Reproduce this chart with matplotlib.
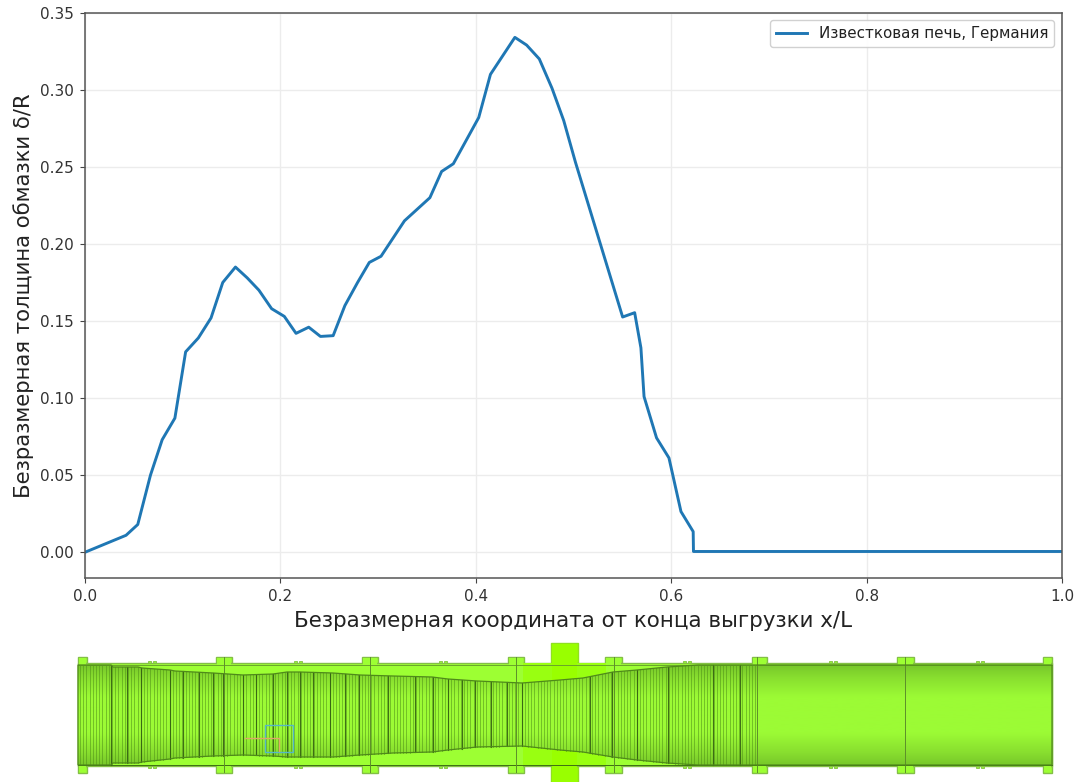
import numpy as np
import matplotlib
matplotlib.use("Agg")
import matplotlib.pyplot as plt
from matplotlib.patches import Polygon, Rectangle
from matplotlib.colors import LinearSegmentedColormap

# ---------- chart data ----------
x_rel = [0, 0.042, 0.054, 0.067, 0.079, 0.092, 0.103, 0.116, 0.129, 0.141, 0.154, 0.166,
         0.178, 0.191, 0.204, 0.216, 0.229, 0.241, 0.254, 0.266, 0.279, 0.291, 0.303,
         0.327, 0.353, 0.365, 0.377, 0.403, 0.415, 0.44, 0.452, 0.465, 0.478, 0.49,
         0.502, 0.5503, 0.5626, 0.569, 0.5722, 0.585, 0.5977, 0.61, 0.6225, 0.6228, 1.0]
delta_r = [0.0, 0.011, 0.018, 0.05, 0.073, 0.087, 0.13, 0.139, 0.152, 0.175, 0.185, 0.178,
           0.17, 0.158, 0.153, 0.142, 0.146, 0.14, 0.1405, 0.16, 0.175, 0.188, 0.192,
           0.215, 0.23, 0.247, 0.252, 0.282, 0.31, 0.334, 0.329, 0.32, 0.301, 0.28,
           0.253, 0.1526, 0.1554, 0.1326, 0.101, 0.0742, 0.0612, 0.0264, 0.0134, 0.0005, 0.0005]
series_label = "Известковая печь, Германия"
x_label = "Безразмерная координата от конца выгрузки x/L"
y_label = "Безразмерная толщина обмазки δ/R"
x_ticks = [0.0, 0.2, 0.4, 0.6, 0.8, 1.0]
y_ticks = [0.00, 0.05, 0.10, 0.15, 0.20, 0.25, 0.30, 0.35]

# ---------- kiln sketch (image pixel units) ----------
shell_x = (78, 1052)
shell_y = (662.7, 766)
flanges = [(78, 87), (216, 232), (362, 378), (508, 524), (605, 622), (752, 767), (897, 914), (1043, 1052)]
gear = (551, 578, 643, 782)
bumps = [151, 297, 442, 686, 832, 979]
seams = [224, 370, 516, 614, 757, 905]
prof_x = [78, 111, 113, 138, 142, 170, 175, 213, 243, 273, 287, 300, 333, 360, 393, 432, 448, 477,
          522, 560, 583, 613, 637, 667, 698, 759, 1052]
prof_top = [665, 665, 667, 667, 668, 670, 671, 673, 675, 674, 672, 672, 673, 675, 676, 677, 679, 681,
            683, 680, 678, 672, 670, 667, 665, 665, 665]
prof_bot = [765, 765, 763, 763, 762, 759, 758, 756, 755, 756, 757, 757, 757, 755, 753, 752, 750, 747,
            746, 750, 752, 757, 760, 763, 765, 765, 765]
major_ribs = [111, 127, 141, 170, 183, 199, 213, 223, 243, 256, 273, 287, 300, 313, 330, 345, 359,
              388, 415, 433, 448, 462, 475, 491, 507, 522, 590, 612, 637, 668, 713, 740]

GREEN_L = "#9dff33"
GREEN_G = "#99ff00"
EDGE = "#83bf45"

fig = plt.figure(figsize=(10.79, 7.82), dpi=100)

# kiln layer
k = fig.add_axes([0, 0, 1, 1], zorder=0)
k.set_xlim(0, 1079)
k.set_ylim(782, 0)
k.axis("off")

def box(x0, x1, y0, y1, fc=GREEN_L, ec=EDGE, lw=1.0, z=1):
    k.add_patch(Rectangle((x0, y0), x1 - x0, y1 - y0, fc=fc, ec=ec, lw=lw, zorder=z))

for fx0, fx1 in flanges:
    box(fx0, fx1, 656.7, 772.7)
box(gear[0], gear[1], gear[2], gear[3], fc=GREEN_G, ec="#8fe020", z=1)
for b in bumps:
    for dx in (-3, 2):
        box(b + dx, b + dx + 2.5, 661, 768, lw=0.6, z=1)
box(shell_x[0], shell_x[1], shell_y[0], shell_y[1], z=2)
box(522, 608, shell_y[0] + 0.6, shell_y[1] - 0.6, fc="#99ff11", ec="none", lw=0, z=2.1)
for fx0, fx1 in flanges:
    box(fx0 + 0.6, fx1 - 0.6, 658, 771.5, ec="none", lw=0, z=2.2)
box(gear[0] + 0.6, gear[1] - 0.6, gear[2] + 1, gear[3], fc=GREEN_G, ec="none", lw=0, z=2.2)

shade = LinearSegmentedColormap.from_list(
    "kiln", [(0, "#78c82a"), (0.12, "#88de2f"), (0.32, "#9cfb35"), (0.68, "#9cfb35"), (0.88, "#88de2f"), (1, "#78c82a")])
im = k.imshow(np.linspace(0, 1, 128)[:, None], extent=(78, 1052, 765, 665), cmap=shade,
              aspect="auto", zorder=3)
k.set_xlim(0, 1079)
k.set_ylim(782, 0)
poly = Polygon(list(zip(prof_x, prof_top)) + list(zip(prof_x, prof_bot))[::-1], closed=True,
               fc="none", ec="#4f8a1a", lw=0.9, zorder=5)
k.add_patch(poly)
im.set_clip_path(poly)

# thin ribs
for xr in np.arange(80, 757, 3.2):
    top = np.interp(xr, prof_x, prof_top)
    bot = np.interp(xr, prof_x, prof_bot)
    k.plot([xr, xr], [top, bot], color="#4f8f18", lw=0.7, alpha=0.55, zorder=4)
for xr in major_ribs:
    top = np.interp(xr, prof_x, prof_top)
    bot = np.interp(xr, prof_x, prof_bot)
    k.plot([xr, xr], [top, bot], color="#2f5a10", lw=0.8, alpha=0.85, zorder=4.5)
for s in seams:
    k.plot([s, s], [657, 772], color="#5d8f2a", lw=0.7, zorder=4.5)
k.plot(shell_x, [665, 665], color="#6aa52a", lw=0.7, zorder=4.4)
k.plot(shell_x, [765, 765], color="#3f6f14", lw=0.7, zorder=4.4)
k.add_patch(Rectangle((264.5, 724.5), 28, 27, fc="none", ec="#55b8c8", lw=1.0, zorder=6))
k.plot([245, 279, 279], [737.5, 737.5, 751], color="#dca868", lw=1.0, zorder=6)

# chart layer
ax = fig.add_axes([85 / 1079, 1 - 578 / 782, (1062 - 85) / 1079, (578 - 12.7) / 782], zorder=2)
ax.plot(x_rel, delta_r, color="#1f77b4", lw=2.1, label=series_label)
ax.set_xlim(0, 1)
ax.set_ylim(-0.0167, 0.35)
ax.set_xticks(x_ticks)
ax.set_yticks(y_ticks)
ax.set_xticklabels([f"{t:.1f}" for t in x_ticks])
ax.set_yticklabels([f"{t:.2f}" for t in y_ticks])
ax.tick_params(labelsize=11, length=3.5, pad=4.5, color="#444444", labelcolor="#333333")
ax.grid(True, color="#ececec", lw=1.0)
ax.set_axisbelow(True)
ax.set_xlabel(x_label, fontsize=15.4, color="#222222", labelpad=5)
ax.set_ylabel(y_label, fontsize=15.3, color="#222222", labelpad=4)
for sp in ax.spines.values():
    sp.set_color("#555555")
    sp.set_linewidth(1.1)
leg = ax.legend(loc="upper right", fontsize=10.9, framealpha=0.9, handlelength=2.0,
                borderaxespad=0.5, labelcolor="#222222")

fig.savefig("out.png", dpi=100)
